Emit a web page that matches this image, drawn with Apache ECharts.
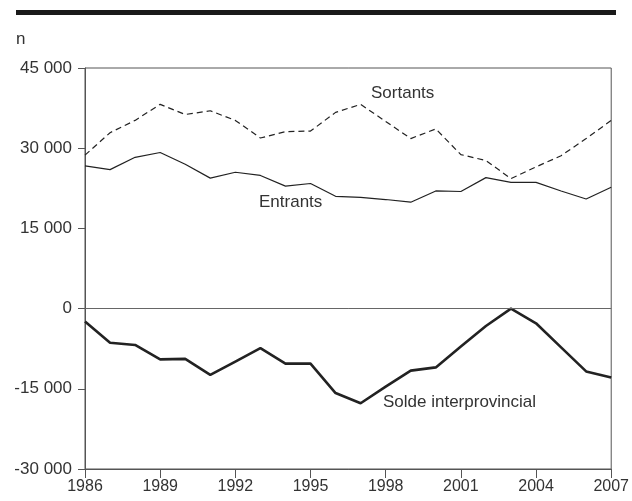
<!DOCTYPE html>
<html>
<head>
<meta charset="utf-8">
<script src="https://cdn.jsdelivr.net/npm/echarts@6/dist/echarts.min.js"></script>
<style>
html,body{margin:0;padding:0;background:#fff;}
#chart{width:632px;height:501px;}
</style>
</head>
<body>
<div id="chart"></div>
<script>
// data
var years=[1986,1987,1988,1989,1990,1991,1992,1993,1994,1995,1996,1997,1998,1999,2000,2001,2002,2003,2004,2005,2006,2007];
var sortants=[28700,32900,35200,38200,36300,37000,35200,31900,33100,33200,36700,38200,35000,31800,33600,28800,27700,24300,26500,28600,31800,35200];
var entrants=[26700,26000,28300,29200,27000,24400,25500,24900,22900,23400,21000,20800,20400,19900,22000,21900,24500,23600,23600,22000,20500,22700];
var solde=[-2400,-6400,-6800,-9500,-9400,-12400,-9900,-7400,-10300,-10300,-15800,-17700,-14600,-11600,-11000,-7100,-3250,0,-2750,-7250,-11750,-12900];
var yTicks=[-30000,-15000,0,15000,30000,45000];

function pairs(arr){
  return years.map(function(y,i){return [y,arr[i]];});
}
// 45000 -> "45 000"
function fmt(v){
  var s=Math.abs(v).toString();
  if(s.length>3){s=s.slice(0,s.length-3)+' '+s.slice(-3);}
  return (v<0?'-':'')+s;
}

var txt='#333';
var font='Liberation Sans, Arial, sans-serif';
var myChart=echarts.init(document.getElementById('chart'));
var option={
  animation:false,
  backgroundColor:'#fff',
  grid:{left:85,right:18,top:68,bottom:32,show:true,borderColor:'#555',borderWidth:1,backgroundColor:'transparent'},
  xAxis:{
    type:'value',min:1986,max:2007,interval:3,
    axisLine:{show:true,onZero:false,lineStyle:{color:'#555',width:1}},
    axisTick:{show:true,length:9,lineStyle:{color:'#555'}},
    splitLine:{show:false},
    axisLabel:{color:txt,fontSize:16,fontFamily:font,margin:10,formatter:function(v){return String(v);}}
  },
  yAxis:{
    type:'value',min:yTicks[0],max:yTicks[yTicks.length-1],interval:15000,
    axisLine:{show:true,onZero:false,lineStyle:{color:'#555',width:1}},
    axisTick:{show:true,length:7,lineStyle:{color:'#555'}},
    splitLine:{show:false},
    axisLabel:{color:txt,fontSize:17,fontFamily:font,margin:13,formatter:fmt}
  },
  series:[
    {name:'Sortants',type:'line',data:pairs(sortants),symbol:'none',
     lineStyle:{color:'#222',width:1.2,type:[6,4]},
     markLine:{silent:true,symbol:'none',label:{show:false},
       lineStyle:{color:'#666',width:1,type:'solid'},data:[{yAxis:0}]}},
    {name:'Entrants',type:'line',data:pairs(entrants),symbol:'none',
     lineStyle:{color:'#222',width:1.2}},
    {name:'Solde interprovincial',type:'line',data:pairs(solde),symbol:'none',
     lineStyle:{color:'#222',width:2.6}}
  ],
  graphic:[
    {type:'rect',shape:{x:16,y:10,width:600,height:5},style:{fill:'#1a1a1a'}},
    {type:'text',left:16,top:31,style:{text:'n',fill:txt,font:'17px '+font}},
    {type:'text',left:371,top:85,style:{text:'Sortants',fill:txt,font:'17px '+font}},
    {type:'text',left:259,top:194,style:{text:'Entrants',fill:txt,font:'17px '+font}},
    {type:'text',left:383,top:394,style:{text:'Solde interprovincial',fill:txt,font:'17px '+font}}
  ]
};
myChart.setOption(option);
</script>
</body>
</html>
